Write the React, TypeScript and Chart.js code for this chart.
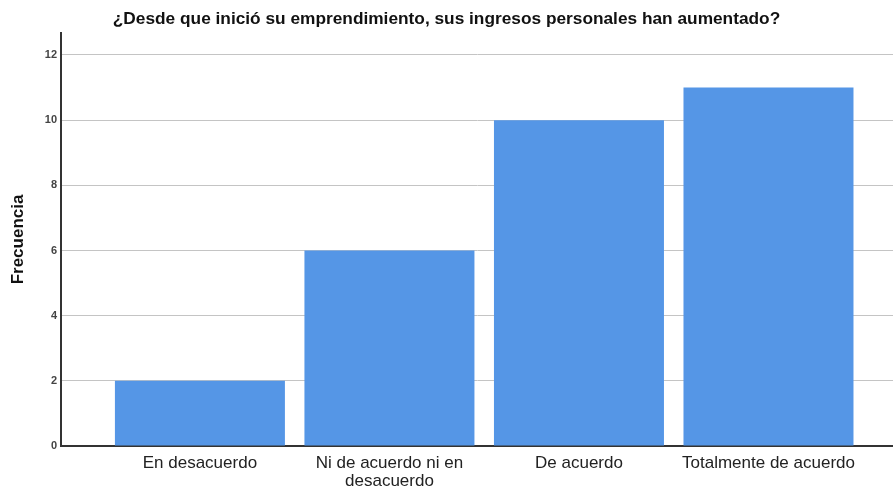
import React, { useEffect, useRef } from "react";
import { Chart, registerables } from "chart.js";

Chart.register(...registerables);

const titleText = "¿Desde que inició su emprendimiento, sus ingresos personales han aumentado?";
const yTitle = "Frecuencia";
const categories: string[][] = [
  ["En desacuerdo"],
  ["Ni de acuerdo ni en", "desacuerdo"],
  ["De acuerdo"],
  ["Totalmente de acuerdo"],
];
const frequencies = [2, 6, 10, 11];
const yTicks = [0, 2, 4, 6, 8, 10, 12];

export default function App() {
  const ref = useRef<HTMLCanvasElement | null>(null);
  useEffect(() => {
    if (!ref.current) return;
    const font = "'Liberation Sans', Arial, sans-serif";
    const chart = new Chart(ref.current, {
      type: "bar",
      data: {
        datasets: [
          {
            data: frequencies.map((v, i) => ({ x: i, y: v })),
            backgroundColor: "#5596e6",
            borderWidth: 0,
            barPercentage: 0.897,
            categoryPercentage: 1,
          },
        ],
      },
      options: {
        responsive: false,
        animation: false,
        layout: { padding: 0 },
        plugins: {
          legend: { display: false },
          tooltip: { enabled: false },
          title: {
            display: true,
            text: titleText,
            color: "#111",
            font: { family: font, size: 17.3, weight: "bold", lineHeight: 1.2 },
            padding: { top: 9, bottom: 3.2 },
          },
        },
        scales: {
          x: {
            type: "linear",
            offset: false,
            min: -0.733,
            max: 3.657,
            afterBuildTicks: (s: any) => {
              s.ticks = categories.map((_, i) => ({ value: i }));
            },
            afterFit: (s: any) => {
              s.height = 42;
            },
            grid: { display: false, drawTicks: false, offset: false },
            border: { display: true, color: "#333", width: 2 },
            ticks: {
              autoSkip: false,
              maxRotation: 0,
              minRotation: 0,
              padding: 8,
              color: "#222",
              font: { family: font, size: 17, lineHeight: 1.07 },
              callback: (v: any) => {
                const i = Math.round(Number(v));
                return categories[i] ?? "";
              },
            },
          },
          y: {
            min: 0,
            max: 12.675,
            afterBuildTicks: (s: any) => {
              s.ticks = yTicks.map((v) => ({ value: v }));
            },
            afterFit: (s: any) => {
              s.width = 61;
            },
            grid: { color: "#c4c4c4", lineWidth: 1, drawTicks: false },
            border: { display: true, color: "#333", width: 2 },
            ticks: {
              padding: 4,
              color: "#444",
              font: { family: font, size: 11, weight: "bold" },
            },
            title: {
              display: true,
              text: yTitle,
              color: "#111",
              font: { family: font, size: 17, weight: "bold", lineHeight: 1.2 },
              padding: { top: 8, bottom: 0 },
            },
          },
        },
      },
    } as any);
    return () => chart.destroy();
  }, []);
  return (
    <div style={{ position: "fixed", left: 0, top: 0, width: 893, height: 488, background: "#fff" }}>
      <canvas ref={ref} width={893} height={488} />
    </div>
  );
}
